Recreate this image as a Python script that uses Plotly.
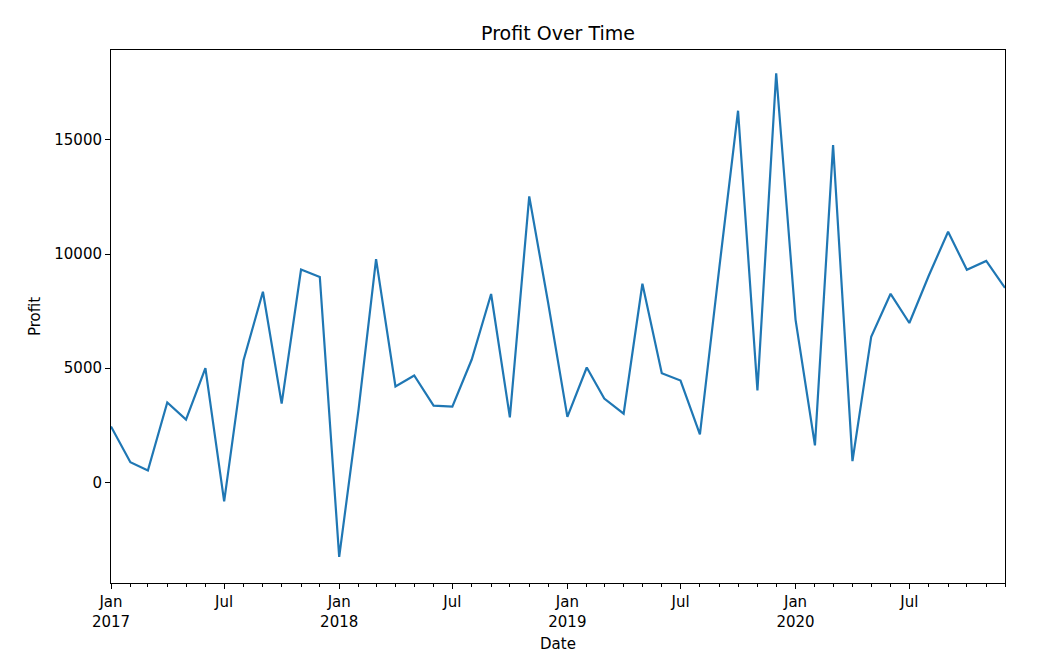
import pandas as pd
import plotly.graph_objects as go

# monthly profit, Jan 2017 .. Dec 2020
months = pd.date_range("2017-01-01", "2020-12-01", freq="MS")
profit = [
    2450, 880, 520, 3500, 2750, 5000, -830, 5350, 8350, 3450, 9320, 9000,
    -3270, 3200, 9780, 4200, 4680, 3360, 3320, 5380, 8250, 2850, 12530, 7900,
    2870, 5030, 3670, 3010, 8700, 4780, 4460, 2100, 9400, 16280, 4030, 17920,
    7120, 1620, 14780, 930, 6380, 8260, 6980, 9050, 10980, 9310, 9700, 8520,
]

tick_dates = ["2017-01-01", "2017-07-01", "2018-01-01", "2018-07-01",
              "2019-01-01", "2019-07-01", "2020-01-01", "2020-07-01"]
tick_text = ["Jan<br>2017", "Jul", "Jan<br>2018", "Jul",
             "Jan<br>2019", "Jul", "Jan<br>2020", "Jul"]
y_ticks = [0, 5000, 10000, 15000]

FONT = "DejaVu Sans, sans-serif"

fig = go.Figure(
    go.Scatter(
        x=months,
        y=profit,
        mode="lines",
        line=dict(color="#1f77b4", width=2.2),
        showlegend=False,
    )
)

fig.update_layout(
    width=1058,
    height=665,
    paper_bgcolor="white",
    plot_bgcolor="white",
    margin=dict(l=111, r=53, t=50, b=82),
    font=dict(family=FONT, size=15, color="black"),
    title=dict(
        text="Profit Over Time",
        x=0.5,
        xref="paper",
        xanchor="center",
        y=1 - 33 / 665,
        yanchor="middle",
        font=dict(family=FONT, size=19, color="black"),
    ),
)

fig.update_xaxes(
    range=[months[0], months[-1]],
    tickvals=tick_dates,
    ticktext=tick_text,
    ticks="outside",
    ticklen=5,
    tickcolor="black",
    showgrid=False,
    zeroline=False,
    showline=True,
    linecolor="black",
    linewidth=1,
    mirror=True,
    minor=dict(ticks="outside", dtick="M1", tick0="2017-01-01",
               ticklen=3, tickcolor="black", showgrid=False),
    title=dict(text="Date", standoff=8, font=dict(size=15)),
)

fig.update_yaxes(
    range=[-4410, 18940],
    tickvals=y_ticks,
    tickformat="d",
    ticks="outside",
    ticklen=5,
    tickcolor="black",
    showgrid=False,
    zeroline=False,
    showline=True,
    linecolor="black",
    linewidth=1,
    mirror=True,
    title=dict(text="Profit", standoff=10, font=dict(size=15)),
)

# drop the browser's default page margin so the figure sits at (0, 0)
fig.write_html(
    "out.html",
    config={"displayModeBar": False},
    post_script="document.body.style.margin = '0';",
)
